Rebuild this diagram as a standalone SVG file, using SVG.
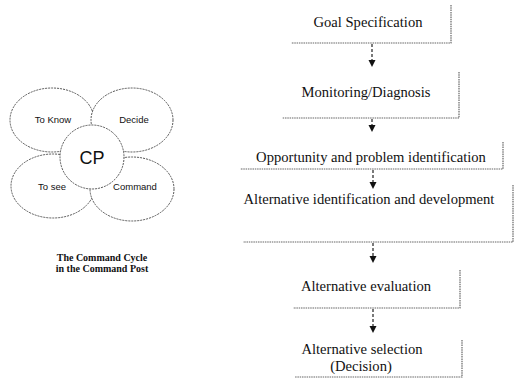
<svg xmlns="http://www.w3.org/2000/svg" width="518" height="378" viewBox="0 0 518 378">
<style>
.bg{fill:#fff}
.ring{fill:#fff;stroke:#555;stroke-width:1;stroke-dasharray:2 1}
.cp{fill:#fff;stroke:#555;stroke-width:1;stroke-dasharray:2 1}
.lab{font-family:"Liberation Sans",Arial,sans-serif;font-size:9.5px;fill:#111;text-anchor:middle}
.cap{font-family:"Liberation Serif","Times New Roman",serif;font-size:10px;font-weight:bold;fill:#111;text-anchor:middle}
.frame{fill:none;stroke:#666;stroke-width:1.2;stroke-dasharray:1.5 0.8}
.step{font-family:"Liberation Serif","Times New Roman",serif;font-size:14.6px;fill:#111;text-anchor:middle}
.conn{stroke:#222;stroke-width:1.2;stroke-dasharray:3 2;fill:none}
.head{fill:#111}
</style>
<rect class="bg" x="0" y="0" width="518" height="378"/>
<g id="cycle">
<g id="to-know"><ellipse class="ring" cx="52" cy="120" rx="42" ry="32"/><text class="lab" x="53" y="123">To Know</text></g>
<g id="decide"><ellipse class="ring" cx="132" cy="120" rx="41" ry="32"/><text class="lab" x="134" y="123">Decide</text></g>
<g id="to-see"><ellipse class="ring" cx="53" cy="186" rx="42" ry="32"/><text class="lab" x="52" y="190">To see</text></g>
<g id="command"><ellipse class="ring" cx="132" cy="189" rx="42" ry="32"/><text class="lab" x="135" y="190">Command</text></g>
<g id="cp"><circle class="cp" cx="92" cy="157" r="32"/><text x="92" y="164" font-family="'Liberation Sans',Arial,sans-serif" font-size="18" fill="#111" text-anchor="middle">CP</text></g>
<g id="caption"><text class="cap" x="102" y="261">The Command Cycle</text><text class="cap" x="102" y="272">in the Command Post</text></g>
</g>
<g id="s1"><path class="frame" d="M451,5 V43 H291"/><text class="step" x="368" y="27">Goal Specification</text></g>
<g id="s2"><path class="frame" d="M459,72 V118 H282"/><text class="step" x="366" y="97">Monitoring/Diagnosis</text></g>
<g id="s3"><path class="frame" d="M503,142 V169 H240"/><text class="step" x="371" y="162">Opportunity and problem identification</text></g>
<g id="s4"><path class="frame" d="M513,185 V242 H243"/><text class="step" x="369" y="204">Alternative identification and development</text></g>
<g id="s5"><path class="frame" d="M460,270 V308 H293"/><text class="step" x="366" y="291">Alternative evaluation</text></g>
<g id="s6"><path class="frame" d="M462,340 V377 H295"/><text class="step" x="362" y="354">Alternative selection</text><text class="step" x="361" y="371">(Decision)</text></g>
<g id="connectors">
<path class="conn" d="M372,44 V61"/><path class="head" d="M368.5,60 L375.5,60 L372,67 Z"/>
<path class="conn" d="M372,119 V126"/><path class="head" d="M368.5,125 L375.5,125 L372,132 Z"/>
<path class="conn" d="M373,170 V183"/><path class="head" d="M369.5,182 L376.5,182 L373,189 Z"/>
<path class="conn" d="M373,243 V257"/><path class="head" d="M369.5,256 L376.5,256 L373,263 Z"/>
<path class="conn" d="M373,309 V327"/><path class="head" d="M369.5,326 L376.5,326 L373,333 Z"/>
</g>
</svg>
